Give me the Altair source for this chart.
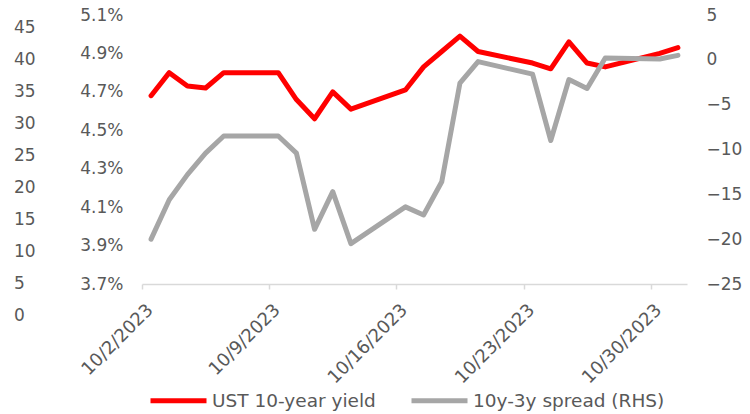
import altair as alt
import pandas as pd

# Trading days in October 2023
trade_dates = [
    "2023-10-02", "2023-10-03", "2023-10-04", "2023-10-05", "2023-10-06",
    "2023-10-09", "2023-10-10", "2023-10-11", "2023-10-12", "2023-10-13",
    "2023-10-16", "2023-10-17", "2023-10-18", "2023-10-19", "2023-10-20",
    "2023-10-23", "2023-10-24", "2023-10-25", "2023-10-26", "2023-10-27",
    "2023-10-30", "2023-10-31",
]
# UST 10-year yield, %
ust_10y = [
    4.68, 4.80, 4.73, 4.72, 4.80,
    4.80, 4.66, 4.56, 4.70, 4.61,
    4.71, 4.83, 4.91, 4.99, 4.91,
    4.85, 4.82, 4.96, 4.85, 4.83,
    4.90, 4.93,
]
# 10y-3y spread, bp (right-hand axis)
spread_10y3y = [
    -20.0, -15.6, -12.8, -10.4, -8.5,
    -8.5, -10.4, -18.9, -14.7, -20.5,
    -16.4, -17.3, -13.6, -2.6, -0.2,
    -1.6, -9.0, -2.2, -3.2, 0.2,
    0.1, 0.5,
]
# Secondary numeric scale printed at the far left
outer_scale_values = [0, 5, 10, 15, 20, 25, 30, 35, 40, 45]

series_names = ["UST 10-year yield", "10y-3y spread (RHS)"]
series_colors = ["#FF0000", "#A6A6A6"]
pct_ticks = [3.7, 3.9, 4.1, 4.3, 4.5, 4.7, 4.9, 5.1]
spread_ticks = [-25, -20, -15, -10, -5, 0, 5]
label_days = [2, 9, 16, 23, 30]

FONT = "DejaVu Sans"
GREY_TEXT = "#595959"

# each daily observation sits in the middle of its day on the date axis
df = pd.DataFrame({
    "date": pd.to_datetime(trade_dates) + pd.Timedelta(hours=12),
    "ust": ust_10y,
    "spread": spread_10y3y,
})
outer_df = pd.DataFrame({"v": outer_scale_values})

x_enc = alt.X(
    "date:T",
    scale=alt.Scale(domain=[alt.DateTime(year=2023, month=10, date=2),
                            alt.DateTime(year=2023, month=11, date=1)]),
    axis=alt.Axis(
        values=[alt.DateTime(year=2023, month=10, date=d) for d in label_days],
        format="%-m/%-d/%Y",
        labelAngle=-45,
        labelAlign="right",
        labelBaseline="middle",
        labelPadding=18,
        labelOffset=8,
        title=None,
        grid=False,
        domainColor="#D9D9D9",
        domainWidth=1.5,
        tickColor="#D9D9D9",
        tickWidth=1.5,
        tickSize=5,
        labelFont=FONT,
        labelFontSize=18,
        labelColor=GREY_TEXT,
        labelOverlap=False,
    ),
)

color_scale = alt.Scale(domain=series_names, range=series_colors)

ust_line = alt.Chart(df).transform_calculate(
    series=f"'{series_names[0]}'"
).mark_line(strokeWidth=5, strokeCap="round", strokeJoin="round").encode(
    x=x_enc,
    y=alt.Y(
        "ust:Q",
        scale=alt.Scale(domain=[3.7, 5.1], nice=False, zero=False),
        axis=alt.Axis(
            orient="left", values=pct_ticks, labelExpr="format(datum.value, '.1f') + '%'",
            title=None, grid=False, domain=False, ticks=False, labelPadding=19,
            labelFont=FONT, labelFontSize=17, labelColor=GREY_TEXT,
        ),
    ),
    color=alt.Color(
        "series:N", scale=color_scale,
        legend=alt.Legend(
            title=None, orient="none", direction="horizontal",
            legendX=6, legendY=355, padding=0,
            symbolType="stroke", symbolSize=3136, symbolStrokeWidth=5,
            labelOffset=3, columnPadding=25, labelLimit=400,
            labelFont=FONT, labelFontSize=18.5, labelColor=GREY_TEXT,
        ),
    ),
)

spread_line = alt.Chart(df).transform_calculate(
    series=f"'{series_names[1]}'"
).mark_line(strokeWidth=5, strokeCap="round", strokeJoin="round").encode(
    x=x_enc,
    y=alt.Y(
        "spread:Q",
        scale=alt.Scale(domain=[-25, 5], nice=False, zero=False),
        axis=alt.Axis(
            orient="right", values=spread_ticks, title=None, grid=False,
            domain=False, ticks=False, labelPadding=19,
            labelFont=FONT, labelFontSize=17, labelColor=GREY_TEXT,
        ),
    ),
    color=alt.Color("series:N", scale=color_scale),
)

outer_labels = alt.Chart(outer_df).mark_text(
    align="left", baseline="middle", font=FONT, fontSize=17, color=GREY_TEXT,
).encode(
    x=alt.value(-128),
    y=alt.Y("v:Q", scale=alt.Scale(domain=[0, 45], range=[300.5, 12.5]), axis=None),
    text=alt.Text("v:Q"),
)

chart = (
    alt.layer(ust_line, spread_line, outer_labels)
    .resolve_scale(y="independent")
    .properties(
        width=545,
        height=269,
        autosize=alt.AutoSizeParams(type="none"),
        padding={"left": 142, "top": 15, "right": 63, "bottom": 130},
    )
    .configure_view(stroke=None)
)

chart.save("out.html", embed_options={"renderer": "svg", "actions": False})
